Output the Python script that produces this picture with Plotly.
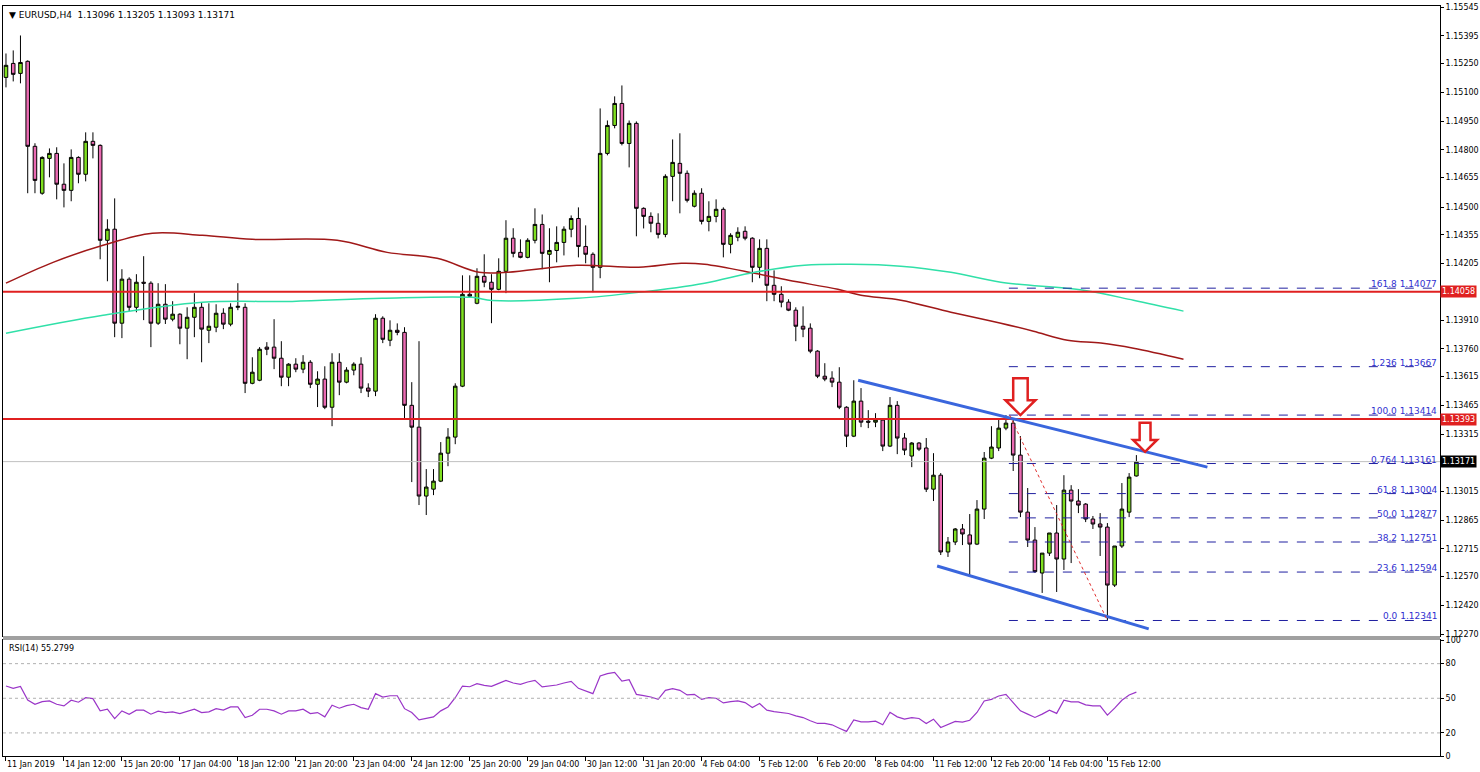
import plotly.graph_objects as go

opens = [1.15178,1.15251,1.15199,1.15262,1.14818,1.14573,1.14755,1.14781,1.14620,1.14588,
1.14760,1.14672,1.14844,1.14823,1.14327,1.14385,1.13894,1.14124,1.13977,1.14108,
1.14103,1.13894,1.13993,1.13915,1.13941,1.13868,1.13925,1.13977,1.13857,1.13873,
1.13946,1.13889,1.13977,1.13977,1.13580,1.13596,1.13769,1.13769,1.13711,1.13612,
1.13680,1.13654,1.13690,1.13575,1.13602,1.13455,1.13690,1.13586,1.13649,1.13680,
1.13555,1.13539,1.13920,1.13805,1.13857,1.13846,1.13465,1.13351,1.12991,1.13027,
1.13069,1.13215,1.13299,1.13565,1.14045,1.13998,1.14139,1.14108,1.14071,1.14165,
1.14338,1.14264,1.14238,1.14327,1.14410,1.14254,1.14274,1.14316,1.14385,1.14441,
1.14295,1.14254,1.14186,1.14781,1.14927,1.15042,1.14833,1.14938,1.14494,1.14452,
1.14416,1.14358,1.14661,1.14729,1.14677,1.14505,1.14573,1.14426,1.14452,1.14489,
1.14306,1.14343,1.14374,1.14338,1.14186,1.14285,1.14092,1.14045,1.14004,1.13962,
1.13878,1.13868,1.13748,1.13617,1.13607,1.13586,1.13455,1.13304,1.13487,1.13382,
1.13377,1.13388,1.13252,1.13465,1.13294,1.13200,1.13268,1.13242,1.13027,1.13100,
1.12699,1.12751,1.12819,1.12788,1.12740,1.12923,1.13189,1.13242,1.13346,1.13372,
1.13205,1.12907,1.12761,1.12589,1.12693,1.12798,1.12662,1.13022,1.12965,1.12949,
1.12871,1.12845,1.12829,1.12526,1.12730,1.12907,1.13096]
highs = [1.15303,1.15319,1.15397,1.15267,1.14834,1.14766,1.14807,1.14813,1.14729,1.14802,
1.14766,1.14891,1.14891,1.14828,1.14437,1.14546,1.14176,1.14134,1.14150,1.14244,
1.14113,1.14103,1.14098,1.14009,1.13946,1.13977,1.14051,1.14004,1.13998,1.13993,
1.13972,1.13998,1.14103,1.13998,1.13716,1.13769,1.13795,1.13915,1.13800,1.13685,
1.13711,1.13727,1.13701,1.13643,1.13669,1.13737,1.13737,1.13664,1.13690,1.13716,
1.13580,1.13941,1.13930,1.13909,1.13893,1.13873,1.13586,1.13800,1.13132,1.13132,
1.13273,1.13346,1.13580,1.14144,1.14144,1.14181,1.14254,1.14150,1.14233,1.14432,
1.14390,1.14332,1.14338,1.14494,1.14462,1.14390,1.14400,1.14400,1.14457,1.14499,
1.14405,1.14264,1.15016,1.14953,1.15079,1.15136,1.14953,1.14948,1.14499,1.14473,
1.14468,1.14672,1.14854,1.14886,1.14692,1.14588,1.14599,1.14531,1.14541,1.14499,
1.14364,1.14395,1.14400,1.14343,1.14332,1.14332,1.14170,1.14087,1.14019,1.13977,
1.13982,1.13893,1.13753,1.13685,1.13643,1.13664,1.13460,1.13596,1.13555,1.13440,
1.13424,1.13398,1.13508,1.13487,1.13320,1.13273,1.13273,1.13294,1.13215,1.13111,
1.12777,1.12824,1.12845,1.12897,1.12970,1.13221,1.13356,1.13398,1.13414,1.13398,
1.13304,1.13033,1.12829,1.12693,1.12798,1.12944,1.13100,1.13048,1.13027,1.12954,
1.12887,1.12902,1.12850,1.12730,1.13059,1.13111,1.13205]
lows = [1.15126,1.15157,1.15147,1.14573,1.14573,1.14565,1.14656,1.14541,1.14499,1.14531,
1.14625,1.14635,1.14755,1.14228,1.14113,1.13821,1.13816,1.13957,1.13951,1.13910,
1.13769,1.13885,1.13890,1.13904,1.13784,1.13706,1.13821,1.13690,1.13790,1.13847,
1.13863,1.13878,1.13962,1.13529,1.13575,1.13591,1.13727,1.13654,1.13565,1.13565,
1.13638,1.13633,1.13555,1.13456,1.13445,1.13356,1.13518,1.13580,1.13622,1.13529,
1.13508,1.13513,1.13790,1.13774,1.13831,1.13392,1.13064,1.12944,1.12892,1.12996,
1.13064,1.13147,1.13262,1.13560,1.14030,1.13993,1.14082,1.13894,1.14066,1.14051,
1.14238,1.14233,1.14233,1.14311,1.14176,1.14108,1.14212,1.14248,1.14343,1.14238,
1.14207,1.14056,1.14129,1.14771,1.14912,1.14823,1.14708,1.14348,1.14389,1.14369,
1.14337,1.14343,1.14531,1.14468,1.14525,1.14499,1.14410,1.14374,1.14421,1.14238,
1.14259,1.14322,1.14327,1.14108,1.14129,1.14009,1.14009,1.13977,1.13957,1.13800,
1.13821,1.13737,1.13607,1.13591,1.13560,1.13445,1.13247,1.13299,1.13351,1.13346,
1.13351,1.13226,1.13247,1.13210,1.13205,1.13142,1.13226,1.13012,1.12965,1.12683,
1.12673,1.12735,1.12735,1.12578,1.12735,1.12871,1.13184,1.13226,1.13335,1.13122,
1.12881,1.12725,1.12590,1.12485,1.12678,1.12490,1.12605,1.12641,1.12902,1.12855,
1.12819,1.12678,1.12341,1.12516,1.12720,1.12881,1.13093]
closes = [1.15241,1.15194,1.15256,1.14818,1.14640,1.14760,1.14781,1.14620,1.14588,1.14760,
1.14672,1.14844,1.14823,1.14327,1.14385,1.13894,1.14124,1.13977,1.14108,1.14103,
1.13894,1.13993,1.13915,1.13941,1.13868,1.13925,1.13977,1.13863,1.13878,1.13946,
1.13889,1.13977,1.13982,1.13580,1.13638,1.13758,1.13758,1.13711,1.13612,1.13680,
1.13654,1.13690,1.13575,1.13602,1.13455,1.13690,1.13586,1.13649,1.13680,1.13555,
1.13539,1.13920,1.13810,1.13857,1.13846,1.13465,1.13351,1.12991,1.13038,1.13069,
1.13215,1.13299,1.13565,1.14045,1.14035,1.14139,1.14108,1.14071,1.14165,1.14338,
1.14259,1.14238,1.14327,1.14410,1.14259,1.14274,1.14316,1.14385,1.14441,1.14295,
1.14254,1.14186,1.14781,1.14927,1.15042,1.14833,1.14938,1.14494,1.14452,1.14416,
1.14358,1.14661,1.14734,1.14677,1.14536,1.14573,1.14426,1.14452,1.14489,1.14306,
1.14353,1.14369,1.14338,1.14186,1.14285,1.14092,1.14045,1.14004,1.13962,1.13878,
1.13863,1.13748,1.13617,1.13602,1.13586,1.13455,1.13304,1.13487,1.13377,1.13377,
1.13388,1.13252,1.13465,1.13294,1.13231,1.13268,1.13236,1.13027,1.13100,1.12699,
1.12751,1.12819,1.12793,1.12740,1.12923,1.13189,1.13247,1.13346,1.13372,1.13205,
1.12907,1.12761,1.12596,1.12693,1.12798,1.12662,1.13022,1.12965,1.12944,1.12871,
1.12845,1.12829,1.12526,1.12730,1.12923,1.13090,1.13171]

rsi = [60.6,58.6,60.3,48.5,44.8,47.1,47.7,44.8,43.4,48.3,
46.6,50.5,49.7,39.1,40.5,32.4,39.1,36.2,39.7,39.7,
36.2,38.8,37.6,38.2,36.7,38.8,40.5,37.6,38.2,41.0,
39.7,42.5,42.5,33.3,35.3,40.5,40.5,39.1,36.2,39.1,
39.1,40.5,36.7,37.6,33.9,44.0,41.4,43.6,44.8,41.9,
40.5,54.0,51.1,52.2,52.2,41.0,37.6,31.3,32.4,33.9,
39.1,42.5,50.5,60.6,60.0,62.6,61.2,60.3,
62.9,65.5,63.2,62.1,64.1,65.5,59.8,60.6,61.5,63.2,
64.7,58.6,56.3,54.0,69.3,71.3,72.4,64.9,66.1,53.4,
52.3,51.1,49.1,56.9,58.3,56.9,52.9,53.4,49.1,50.6,
50.0,46.0,47.1,47.7,46.3,42.0,45.4,39.7,38.5,37.4,
36.8,34.8,33.3,30.5,28.2,28.2,27.0,24.1,21.3,31.3,
29.6,29.6,30.2,27.0,37.9,33.9,31.9,33.3,32.5,28.2,
31.9,24.7,27.0,29.9,29.3,31.0,
37.7,47.7,49.1,52.0,53.4,46.3,39.1,36.3,33.4,36.3,
39.7,36.9,48.3,46.9,46.9,44.3,43.4,43.4,35.4,41.4,
48.3,52.9,55.2799]

ma_red_x = [0,6.5,13.4,20.2,27.1,34,45.7,52.6,59.5,65.3,69.1,78.8,87.3,93.2,96.4,103.3,108,114.8,118,123.5,130.4,137.3,141.8,146.5,151.1,155.6,162.5]
ma_red_y = [1.14103,1.14212,1.14301,1.14364,1.14353,1.14332,1.14327,1.14264,1.14233,1.14160,1.14160,1.14197,1.14186,1.14207,1.14202,1.14155,1.14118,1.14071,1.14040,1.14014,1.13951,1.13894,1.13852,1.13805,1.13790,1.13763,1.13706]
ma_grn_x = [0,13.4,27.1,39.5,51.9,64.3,67.1,78.8,87.3,96.4,103.3,110.2,116.6,123.5,130.4,137.3,148.7,155.6,162.5]
ma_grn_y = [1.13841,1.13935,1.14003,1.14008,1.14024,1.14029,1.14013,1.14024,1.14055,1.14103,1.14160,1.14197,1.14202,1.14192,1.14160,1.14108,1.14066,1.14014,1.13957]

x_labels = ["11 Jan 2019","14 Jan 12:00","15 Jan 20:00","17 Jan 04:00","18 Jan 12:00","21 Jan 20:00",
"23 Jan 04:00","24 Jan 12:00","25 Jan 20:00","29 Jan 04:00","30 Jan 12:00","31 Jan 20:00",
"4 Feb 04:00","5 Feb 12:00","6 Feb 20:00","8 Feb 04:00","11 Feb 12:00","12 Feb 20:00",
"14 Feb 04:00","15 Feb 12:00"]
price_ticks = [1.15545,1.15395,1.15250,1.15100,1.14950,1.14800,1.14655,1.14500,1.14355,1.14205,
1.13910,1.13760,1.13615,1.13465,1.13315,1.13015,1.12865,1.12715,1.12570,1.12420,1.12270]
fib_names = ["161.8","1.236","100.0","0.764","61.8","50.0","38.2","23.6","0.0"]
fib_vals = [1.14077,1.13667,1.13414,1.13161,1.13004,1.12877,1.12751,1.12594,1.12341]
resist = [1.14058,1.13393]
last_price = 1.13171

n = len(closes)
xs = list(range(n))
XR = [-0.41, 197.9]
F = "DejaVu Sans"
TF = dict(family=F, size=8, color="#000")

fig = go.Figure()
fig.add_trace(go.Scatter(x=ma_red_x, y=ma_red_y, mode="lines", line=dict(color="#a01818", width=1.5, shape="spline"), xaxis="x", yaxis="y", hoverinfo="skip"))
fig.add_trace(go.Scatter(x=ma_grn_x, y=ma_grn_y, mode="lines", line=dict(color="#30e0a8", width=1.5, shape="spline"), xaxis="x", yaxis="y", hoverinfo="skip"))
fig.add_trace(go.Candlestick(x=xs, open=opens, high=highs, low=lows, close=closes,
    increasing=dict(line=dict(color="#000000", width=1), fillcolor="#7fe020"),
    decreasing=dict(line=dict(color="#000000", width=1), fillcolor="#ea6ab2"),
    whiskerwidth=0, xaxis="x", yaxis="y"))
fig.add_trace(go.Scatter(x=list(range(len(rsi))), y=rsi, mode="lines", line=dict(color="#9a35c8", width=1.2), xaxis="x2", yaxis="y2"))

shapes = []
for r in resist:
    shapes.append(dict(type="line", xref="x", yref="y", x0=XR[0], x1=XR[1], y0=r, y1=r, line=dict(color="#e02020", width=2)))
shapes.append(dict(type="line", xref="x", yref="y", x0=XR[0], x1=XR[1], y0=last_price, y1=last_price, line=dict(color="#c0c0c0", width=1)))
for v in fib_vals:
    shapes.append(dict(type="line", xref="x", yref="y", x0=138.4, x1=XR[1], y0=v, y1=v, line=dict(color="#2020a0", width=1, dash="dash")))
shapes.append(dict(type="line", xref="x", yref="y", x0=117.6, y0=1.13596, x1=165.8, y1=1.13142, line=dict(color="#3a66dd", width=3)))
shapes.append(dict(type="line", xref="x", yref="y", x0=128.5, y0=1.12626, x1=157.7, y1=1.12297, line=dict(color="#3a66dd", width=3)))
shapes.append(dict(type="line", xref="x", yref="y", x0=138.5, y0=highs[138], x1=152, y1=lows[152], line=dict(color="#e03030", width=1, dash="dot")))
for cx, w, s, top, head, tip in [(140.0, 2.07, 1.0, 1.13607, 1.13492, 1.13414), (157.2, 1.65, 0.75, 1.13374, 1.13284, 1.13222)]:
    p = (f"M {cx-s},{top} L {cx+s},{top} L {cx+s},{head} L {cx+w},{head} L {cx},{tip} "
         f"L {cx-w},{head} L {cx-s},{head} Z")
    shapes.append(dict(type="path", xref="x", yref="y", path=p, fillcolor="white", line=dict(color="#e02020", width=2.5)))
for lv in [80, 50, 20]:
    shapes.append(dict(type="line", xref="x2", yref="y2", x0=XR[0], x1=XR[1], y0=lv, y1=lv, line=dict(color="#b0b0b0", width=1, dash="dot")))
shapes.append(dict(type="rect", xref="paper", yref="paper", x0=0, x1=1, y0=0.1547, y1=0.16, fillcolor="#a0a0a0", line=dict(width=0)))

ann = []
for nm, v in zip(fib_names, fib_vals):
    ann.append(dict(xref="paper", yref="y", x=0.999, y=v, text=f"{nm} {v:.5f}", showarrow=False,
                    xanchor="right", yanchor="bottom", font=dict(family=F, size=9, color="#3030d0"), yshift=-3))
for r in resist:
    ann.append(dict(xref="paper", yref="y", x=1.0, y=r, text=f"{r:.5f}", showarrow=False, xanchor="left",
                    bgcolor="#e02020", font=dict(family=F, size=8, color="white"), borderpad=1))
ann.append(dict(xref="paper", yref="y", x=1.0, y=last_price, text=f"{last_price:.5f}", showarrow=False, xanchor="left",
                bgcolor="#000000", font=dict(family=F, size=8, color="white"), borderpad=1))
ann.append(dict(xref="paper", yref="paper", x=0.003, y=0.998, text=f"▼ EURUSD,H4  {opens[-1]:.5f} {highs[-1]:.5f} {lows[-1]:.5f} {closes[-1]:.5f}",
                showarrow=False, xanchor="left", yanchor="top", font=dict(family=F, size=9, color="#000")))
ann.append(dict(xref="paper", yref="paper", x=0.003, y=0.152, text=f"RSI(14) {rsi[-1]:.4f}",
                showarrow=False, xanchor="left", yanchor="top", font=dict(family=F, size=8, color="#000")))

fig.update_layout(
    width=1480, height=772, margin=dict(l=3, r=40, t=6, b=16, autoexpand=False),
    paper_bgcolor="white", plot_bgcolor="white", showlegend=False,
    shapes=shapes, annotations=ann,
    xaxis=dict(domain=[0, 1], range=XR, anchor="y", showticklabels=False, showgrid=False, zeroline=False,
               rangeslider=dict(visible=False), showline=True, mirror=True, linecolor="#000", linewidth=1, ticks="",
               automargin=False),
    yaxis=dict(domain=[0.16, 1], range=[1.12260, 1.15551], side="right", tickvals=price_ticks,
               ticktext=[f"{v:.5f}" for v in price_ticks], ticks="outside", ticklen=3, tickcolor="#000",
               showgrid=False, zeroline=False, showline=True, mirror=True, linecolor="#000",
               tickfont=TF, automargin=False),
    xaxis2=dict(domain=[0, 1], range=XR, anchor="y2", tickvals=list(range(0, 8 * len(x_labels), 8)), ticktext=x_labels,
                ticks="outside", ticklen=4, tickcolor="#000", ticklabelposition="outside right", tickangle=0,
                showgrid=False, zeroline=False, showline=True, mirror=True, linecolor="#000",
                tickfont=TF, automargin=False),
    yaxis2=dict(domain=[0, 0.1547], range=[0, 100.5], side="right", tickvals=[100, 80, 50, 20, 0],
                ticks="outside", ticklen=3, tickcolor="#000", showgrid=False, zeroline=False,
                showline=True, mirror=True, linecolor="#000", tickfont=TF, automargin=False),
)
fig.write_html("out.html", config={"displayModeBar": False},
               post_script="document.body.style.margin='0';document.body.style.overflow='hidden';")
